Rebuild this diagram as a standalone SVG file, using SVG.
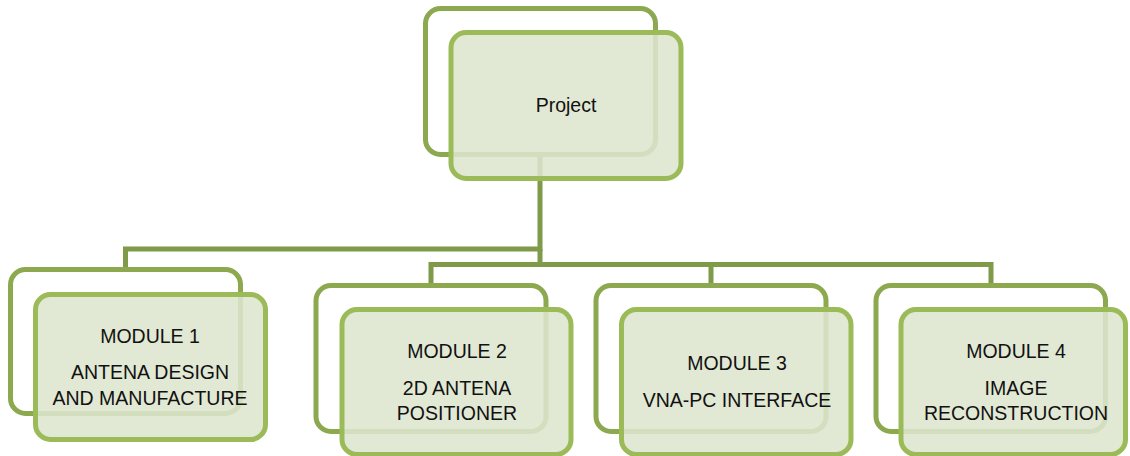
<svg xmlns="http://www.w3.org/2000/svg" width="1130" height="456" viewBox="0 0 1130 456">
  <style>
    .back { fill: none; stroke: #8ca950; stroke-width: 5; }
    .front { fill: rgb(221,229,206); fill-opacity: 0.88; stroke: #9bbb59; stroke-width: 5; }
    .link { fill: none; stroke: #7f9a48; stroke-width: 5; }
    .label { font-family: "Liberation Sans", Arial, sans-serif; font-size: 19.5px; fill: #111; text-anchor: middle; }
  </style>
  <rect width="1130" height="456" fill="#ffffff"/>

  <!-- tree connectors -->
  <g id="connectors">
    <path class="link" d="M540,154 V249 H125.5 V269"/>
    <path class="link" d="M540,249 V264.5"/>
    <path class="link" d="M431,285 V264.5 H991 V285"/>
    <path class="link" d="M711,264.5 V285"/>
  </g>

  <g id="project">
    <rect class="back" x="425.5" y="8.5" width="230" height="146" rx="15"/>
    <rect class="front" x="451" y="32.5" width="230" height="146" rx="15"/>
    <text class="label" x="566" y="112">Project</text>
  </g>

  <g id="module1">
    <rect class="back" x="10.5" y="269.5" width="230" height="144" rx="15"/>
    <rect class="front" x="35.5" y="294.5" width="230" height="145" rx="15"/>
    <text class="label" x="150" y="343">MODULE 1</text>
    <text class="label" x="150" y="379">ANTENA DESIGN</text>
    <text class="label" x="150" y="405">AND MANUFACTURE</text>
  </g>

  <g id="module2">
    <rect class="back" x="316" y="285.5" width="230" height="146" rx="15"/>
    <rect class="front" x="342" y="309.5" width="229" height="145" rx="15"/>
    <text class="label" x="457" y="358">MODULE 2</text>
    <text class="label" x="457" y="395">2D ANTENA</text>
    <text class="label" x="457" y="420">POSITIONER</text>
  </g>

  <g id="module3">
    <rect class="back" x="596" y="285.5" width="230" height="146" rx="15"/>
    <rect class="front" x="621.5" y="309.5" width="229.5" height="145" rx="15"/>
    <text class="label" x="737" y="370">MODULE 3</text>
    <text class="label" x="737" y="407">VNA-PC INTERFACE</text>
  </g>

  <g id="module4">
    <rect class="back" x="876" y="285.5" width="229.5" height="146" rx="15"/>
    <rect class="front" x="901" y="309.5" width="224.5" height="145" rx="15"/>
    <text class="label" x="1016" y="358">MODULE 4</text>
    <text class="label" x="1016" y="395">IMAGE</text>
    <text class="label" x="1016" y="420">RECONSTRUCTION</text>
  </g>
</svg>
